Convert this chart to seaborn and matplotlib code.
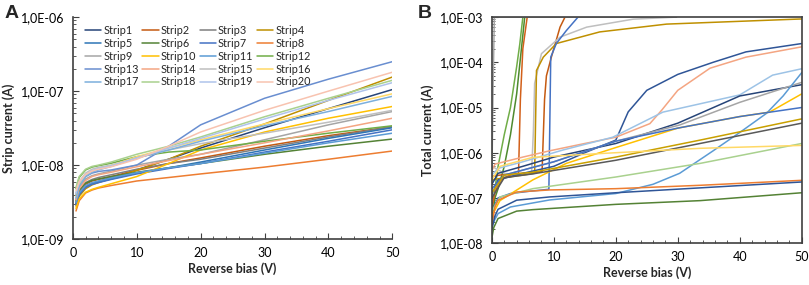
import matplotlib
matplotlib.use("Agg")
import matplotlib.pyplot as plt
import matplotlib.ticker as mticker
import numpy as np
import pandas as pd
import seaborn as sns

# ---- panel A: strip currents (nA) at common bias points ----
bias_a = [0.5, 1, 2, 3, 4, 6, 10, 15, 20, 30, 40, 50]
strip_names = [f"Strip{i}" for i in range(1, 21)]
strip_colors = ["#264478", "#C55A11", "#7F7F7F", "#BF8F00", "#2E75B6", "#548235",
                "#4472C4", "#ED7D31", "#A5A5A5", "#FFC000", "#5B9BD5", "#70AD47",
                "#698ED0", "#F4A582", "#BFBFBF", "#FFD966", "#7CAFDD", "#A9D18E",
                "#AFC3EB", "#F8C3B0"]
strip_current_na = [
    [3.0, 4.0, 5.0, 5.6, 6.0, 6.8, 8.6, 12, 17, 32, 58, 105],      # 1
    [3.0, 4.2, 5.5, 6.1, 6.4, 7.0, 8.5, 10.5, 12.5, 18, 25, 33],   # 2
    [3.2, 4.5, 5.8, 6.4, 6.8, 7.4, 8.8, 10.5, 12, 17, 24, 33],     # 3
    [2.8, 3.8, 4.8, 5.4, 5.8, 6.6, 8.5, 12, 18, 36, 75, 155],      # 4
    [3.0, 4.1, 5.1, 5.6, 5.9, 6.5, 7.8, 9.2, 11, 16, 23, 32],      # 5
    [3.3, 4.6, 5.7, 6.2, 6.5, 7.0, 8.0, 9.2, 10.5, 14, 18, 22.5],  # 6
    [2.9, 4.0, 5.0, 5.5, 5.8, 6.4, 7.6, 9.0, 10.5, 15, 21, 30],    # 7
    [2.4, 3.3, 4.2, 4.6, 4.9, 5.3, 6.1, 6.8, 7.6, 9.4, 12, 15.5],  # 8
    [3.5, 5.0, 6.5, 7.2, 7.6, 8.3, 10, 12, 14, 22, 35, 53],        # 9
    [2.6, 3.5, 4.3, 4.7, 5.0, 5.6, 7.0, 10.5, 16, 28, 43, 62],     # 10
    [3.1, 4.2, 5.3, 5.8, 6.1, 6.7, 7.9, 9.2, 10.5, 14.5, 20, 27],  # 11
    [4.8, 6.8, 8.6, 9.4, 9.8, 10.6, 13, 15, 16, 21, 27, 34],       # 12
    [4.0, 5.5, 7.0, 7.8, 8.2, 8.6, 10, 18, 35, 80, 145, 250],      # 13
    [3.4, 4.8, 6.2, 7.0, 7.4, 8.0, 9.5, 11.5, 14, 20, 29, 43],     # 14
    [4.2, 6.0, 7.8, 8.8, 9.3, 10, 12.5, 16, 19.5, 27, 38, 55],     # 15
    [3.8, 5.5, 7.2, 8.2, 8.8, 9.8, 13, 17, 22, 36, 58, 92],        # 16
    [3.6, 5.2, 7.0, 8.0, 8.6, 9.6, 12.5, 16, 21, 34, 53, 85],      # 17
    [5.0, 7.0, 8.8, 9.6, 10, 11, 14, 18, 24, 45, 80, 140],         # 18
    [4.2, 5.8, 7.5, 8.4, 9.0, 9.8, 12.5, 17, 23, 42, 75, 130],     # 19
    [4.5, 6.0, 7.5, 8.3, 8.8, 9.5, 12, 18, 28, 55, 100, 180],      # 20
]

# ---- panel B: total current curves (bias V, current A) ----
total_colors = ["#70AD47", "#4E8A2E", "#D2601A", "#C55A11", "#BFBFBF", "#BF9000",
                "#4472C4", "#2F5597", "#F4A582", "#9DC3E6", "#264478", "#A5A5A5",
                "#5B9BD5", "#FFC000", "#4472C4", "#C9A000", "#595959", "#A9D18E",
                "#FFD966", "#ED7D31", "#2F5597", "#548235", "#A6A6A6"]
total_bias = [
    [0, 0.5, 1, 2, 3, 4, 4.5, 5.0],
    [0, 0.5, 1, 2, 3, 4, 5, 5.3],
    [0, 0.5, 1, 2, 3, 4.3, 4.6, 5.0, 5.7],
    [0, 2, 5, 8.1, 8.5, 8.8, 9.6, 11, 11.8],
    [0, 2, 4, 6.4, 6.7, 6.9, 8, 11, 15.3, 22.8, 29.8],
    [0, 2, 5, 6.9, 7.2, 8.3, 10.4, 17.4, 28.2, 50],
    [0, 1, 3, 6, 9.2, 9.5, 10.4, 12, 13.9],
    [0, 1, 5, 10, 15, 20, 22, 25, 30, 35.7, 41, 50],
    [0, 0.5, 2, 5, 9.3, 15, 20, 25.5, 27.4, 30, 35.2, 41, 50],
    [0, 1, 5, 11.5, 19.5, 27.6, 40, 45.3, 50],
    [0, 1, 5, 10, 20, 30, 40, 50],
    [0, 2, 10, 20, 30.3, 40, 50],
    [0, 1, 3, 9.3, 20, 26, 30.3, 35.7, 40, 44.3, 47, 50],
    [0, 1.3, 6.6, 12, 20, 30, 40, 44.8, 50],
    [0, 2, 10, 20, 30, 40, 50],
    [0, 2, 6.6, 10, 20, 33.6, 50],
    [0, 2, 6.6, 20, 33.6, 50],
    [0, 1.3, 6.6, 20, 33.6, 50],
    [0, 1.3, 6.6, 20, 33.6, 50],
    [0, 0.5, 1, 4, 9.3, 20, 33.6, 50],
    [0, 0.5, 1, 4, 9.3, 20, 50],
    [0, 0.3, 1, 4, 6.6, 20, 33.6, 50],
    [0, 0.2, 0.4, 29.8],
]
total_current = [
    [5e-8, 1.6e-7, 5e-7, 2.5e-6, 1e-5, 8e-5, 2.5e-4, 1e-3],
    [3e-8, 1e-7, 1.6e-7, 5e-7, 2.5e-6, 2e-5, 4e-4, 1e-3],
    [6e-8, 1.3e-7, 2e-7, 2.8e-7, 3.2e-7, 3.5e-7, 1.5e-5, 2e-4, 1e-3],
    [3e-7, 3.3e-7, 3.5e-7, 3.8e-7, 1.5e-5, 5e-5, 1.3e-4, 6e-4, 1e-3],
    [5e-7, 3.5e-7, 3.2e-7, 3.5e-7, 3e-6, 3.4e-5, 1.55e-4, 3.6e-4, 6e-4, 9e-4, 1e-3],
    [2.5e-7, 2.8e-7, 3.2e-7, 3.5e-7, 6.6e-5, 1.3e-4, 2.6e-4, 4.7e-4, 7e-4, 9.1e-4],
    [5e-8, 1e-7, 1.25e-7, 1.4e-7, 1.55e-7, 1.3e-4, 2.6e-4, 5e-4, 1e-3],
    [1.2e-7, 2.5e-7, 3.5e-7, 5e-7, 1e-6, 1.9e-6, 8e-6, 2.4e-5, 5.4e-5, 1e-4, 1.7e-4, 2.6e-4],
    [4e-7, 5.6e-7, 6.3e-7, 8e-7, 1.1e-6, 1.6e-6, 2.2e-6, 4.4e-6, 8.7e-6, 2.4e-5, 7.4e-5, 1.3e-4, 2.2e-4],
    [3.2e-7, 4.5e-7, 6.3e-7, 1.15e-6, 2.2e-6, 7.9e-6, 1.9e-5, 5.2e-5, 7.2e-5],
    [2e-7, 3.5e-7, 5e-7, 8e-7, 1.6e-6, 4.5e-6, 1.8e-5, 3.2e-5],
    [1.3e-7, 3.2e-7, 6.3e-7, 1.8e-6, 4.1e-6, 1.3e-5, 3.6e-5],
    [2.5e-8, 4.5e-8, 6.3e-8, 9e-8, 1.25e-7, 2e-7, 3.5e-7, 1.1e-6, 2.8e-6, 7.4e-6, 1.8e-5, 5.9e-5],
    [4e-8, 8.7e-8, 2.5e-7, 5.8e-7, 1.3e-6, 3.5e-6, 6.3e-6, 7.9e-6, 2e-5],
    [1.6e-7, 3.2e-7, 6.3e-7, 1.8e-6, 3.5e-6, 6.3e-6, 1e-5],
    [1.3e-7, 3.2e-7, 3.7e-7, 4.5e-7, 8e-7, 1.9e-6, 5.6e-6],
    [1e-7, 2.8e-7, 3.4e-7, 6.8e-7, 1.6e-6, 4.5e-6],
    [5e-8, 1.05e-7, 1.6e-7, 2.9e-7, 5.8e-7, 1.6e-6],
    [2.5e-7, 5e-7, 7.9e-7, 1e-6, 1.25e-6, 1.45e-6],
    [2.5e-8, 6.3e-8, 8.9e-8, 1.35e-7, 1.5e-7, 1.6e-7, 1.9e-7, 2.45e-7],
    [2e-8, 4e-8, 5.6e-8, 8.9e-8, 1.05e-7, 1.3e-7, 2.25e-7],
    [1.3e-8, 2.2e-8, 3.5e-8, 5.1e-8, 5.5e-8, 7.2e-8, 8.7e-8, 1.3e-7],
    [3e-7, 3e-5, 1e-3, 1e-3],
]

sns.set_style("ticks")
plt.rcParams["font.family"] = ["Lato", "DejaVu Sans"]
plt.rcParams["axes.edgecolor"] = "#404040"
plt.rcParams["xtick.color"] = "#404040"
plt.rcParams["ytick.color"] = "#404040"
plt.rcParams["xtick.labelcolor"] = "black"
plt.rcParams["ytick.labelcolor"] = "black"

fig = plt.figure(figsize=(8.09, 2.85), dpi=100)
ax_a = fig.add_axes([0.090, 0.161, 0.395, 0.779])
ax_b = fig.add_axes([0.608, 0.147, 0.383, 0.793])

rows = []
for name, vals in zip(strip_names, strip_current_na):
    for x, v in zip(bias_a, vals):
        rows.append({"strip": name, "bias": x, "current": v * 1e-9})
df_a = pd.DataFrame(rows)
sns.lineplot(data=df_a, x="bias", y="current", hue="strip", hue_order=strip_names,
             palette=strip_colors, linewidth=1.1, estimator=None, sort=False, ax=ax_a)

rows = []
for i, (xs, ys) in enumerate(zip(total_bias, total_current)):
    for x, v in zip(xs, ys):
        rows.append({"curve": i, "bias": x, "current": v})
df_b = pd.DataFrame(rows)
sns.lineplot(data=df_b, x="bias", y="current", hue="curve", palette=total_colors,
             linewidth=1.1, estimator=None, sort=False, legend=False, ax=ax_b)


def sci_comma(v, pos):
    e = int(round(np.log10(v)))
    return f"1,0E{e:03d}"


for ax, ylim, ylabel in [(ax_a, (1e-9, 1e-6), "Strip current (A)"),
                         (ax_b, (1e-8, 1e-3), "Total current (A)")]:
    ax.set_yscale("log")
    ax.set_ylim(*ylim)
    ax.set_xlim(0, 50)
    ax.xaxis.set_major_locator(mticker.MultipleLocator(10))
    ax.xaxis.set_minor_locator(mticker.MultipleLocator(2))
    ax.yaxis.set_major_locator(mticker.LogLocator(base=10))
    ax.yaxis.set_minor_locator(mticker.LogLocator(base=10, subs=np.arange(2, 10)))
    ax.yaxis.set_minor_formatter(mticker.NullFormatter())
    ax.yaxis.set_major_formatter(mticker.FuncFormatter(sci_comma))
    ax.tick_params(which="both", direction="in", labelsize=9, top=False, right=False)
    ax.tick_params(which="major", length=4, width=0.8, pad=6)
    ax.tick_params(which="minor", length=2.5, width=0.6)
    ax.set_xlabel("Reverse bias (V)", fontsize=9, fontweight="bold", labelpad=2)
    ax.set_ylabel(ylabel, fontsize=9, fontweight="bold", labelpad=4)
    for s in ax.spines.values():
        s.set_linewidth(1.2)

ax_a.spines["top"].set_visible(False)
ax_a.spines["right"].set_visible(False)

handles, labels = ax_a.get_legend_handles_labels()
order = [r * 4 + c for c in range(4) for r in range(5)]
ax_a.legend([handles[i] for i in order], [labels[i] for i in order], ncol=4,
            loc="upper left", bbox_to_anchor=(0.015, 1.0), frameon=False, fontsize=7.8,
            handlelength=1.5, handletextpad=0.2, columnspacing=0.3,
            labelspacing=0.18, borderaxespad=0.3)

fig.text(0.006, 0.937, "A", fontsize=14, fontweight="bold", family="Liberation Sans")
fig.text(0.516, 0.937, "B", fontsize=14, fontweight="bold", family="Liberation Sans")

fig.savefig("out.png", dpi=100)
